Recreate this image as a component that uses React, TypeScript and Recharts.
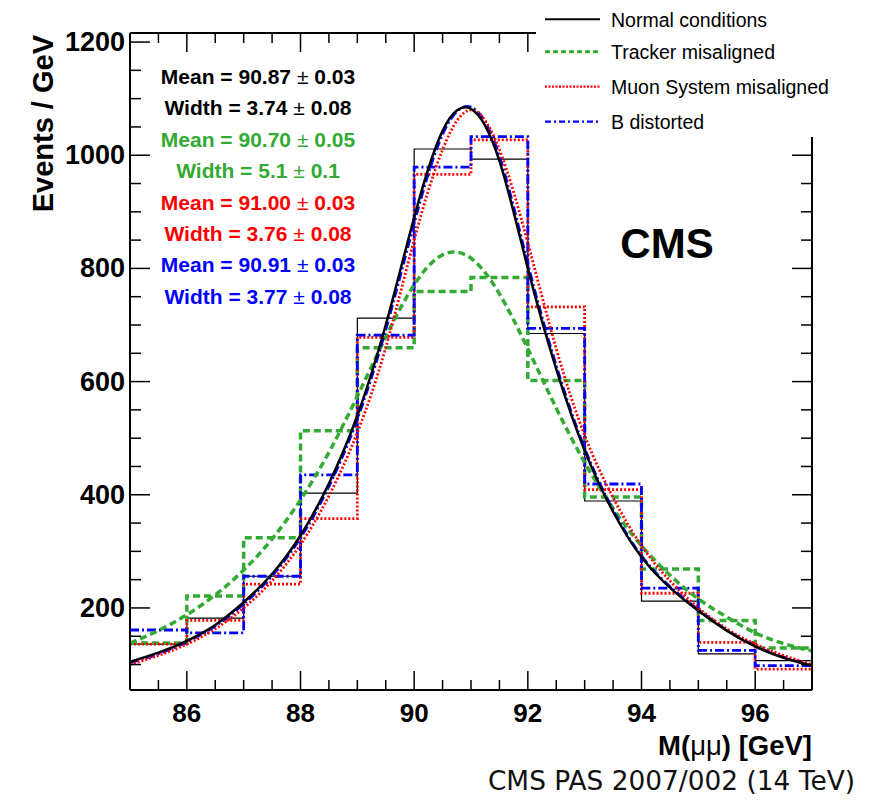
import { Line, LineChart, XAxis, YAxis } from 'recharts'

// histogram bins, 1 GeV wide
const binEdges = [85, 86, 87, 88, 89, 90, 91, 92, 93, 94, 95, 96, 97]
const normalCounts = [136, 182, 256, 403, 712, 1011, 993, 685, 389, 212, 119, 107]
const trackerCounts = [138, 221, 324, 513, 660, 759, 784, 602, 396, 269, 178, 129]
const muonCounts = [136, 178, 242, 358, 678, 966, 1027, 732, 409, 226, 139, 92]
const bFieldCounts = [161, 156, 256, 435, 682, 979, 1033, 694, 419, 235, 125, 98]

// fitted curves, read every 0.5 GeV
const fitMass = [85, 85.5, 86, 86.5, 87, 87.5, 88, 88.5, 89, 89.5, 90, 90.5, 91, 91.5, 92, 92.5, 93, 93.5, 94, 94.5, 95, 95.5, 96, 96.5, 97]
const normalFit = [105, 121, 142, 170, 210, 260, 328, 420, 540, 700, 890, 1043, 1082, 990, 800, 622, 478, 370, 290, 236, 195, 160, 132, 112, 98]
const trackerFit = [138, 160, 188, 223, 267, 322, 391, 475, 574, 679, 771, 824, 818, 755, 658, 553, 457, 376, 310, 258, 216, 184, 156, 137, 124]
const muonFit = [100, 116, 136, 163, 200, 248, 312, 398, 510, 660, 850, 1010, 1080, 1010, 845, 658, 505, 395, 310, 248, 200, 163, 136, 116, 100]
const bFieldFit = [103, 119, 140, 168, 207, 257, 324, 415, 534, 692, 880, 1037, 1085, 998, 808, 628, 482, 373, 292, 238, 197, 161, 133, 113, 98]

const xTicks = [85, 85.5, 86, 86.5, 87, 87.5, 88, 88.5, 89, 89.5, 90, 90.5, 91, 91.5, 92, 92.5, 93, 93.5, 94, 94.5, 95, 95.5, 96, 96.5, 97]
const yTicks = [100, 150, 200, 250, 300, 350, 400, 450, 500, 550, 600, 650, 700, 750, 800, 850, 900, 950, 1000, 1050, 1100, 1150, 1200]

const legendLabels = ['Normal conditions', 'Tracker misaligned', 'Muon System misaligned', 'B distorted']
const statLabels = ['Mean = 90.87', 'Width = 3.74', 'Mean = 90.70', 'Width = 5.1', 'Mean = 91.00', 'Width = 3.76', 'Mean = 90.91', 'Width = 3.77']
const statErrors = ['0.03', '0.08', '0.05', '0.1', '0.03', '0.08', '0.03', '0.08']

const FONT = '"Liberation Sans", Arial, Helvetica, sans-serif'
const GREEN = '#33aa33'

const STYLES = [
  { color: '#000000', histWidth: 1.2, fitWidth: 2.5, dash: undefined as string | undefined },
  { color: GREEN, histWidth: 3.5, fitWidth: 3.5, dash: '7 4' },
  { color: '#ff0000', histWidth: 2.8, fitWidth: 2.8, dash: '2 2' },
  { color: '#0000ff', histWidth: 2.8, fitWidth: 2.8, dash: '9 3 2 3' },
]

const toSteps = (counts: number[]) =>
  binEdges.map((x, i) => ({ x, y: counts[Math.min(i, counts.length - 1)] }))
const toFit = (values: number[]) => fitMass.map((x, i) => ({ x, y: values[i] }))

const histograms = [normalCounts, trackerCounts, muonCounts, bFieldCounts].map(toSteps)
const fits = [normalFit, trackerFit, muonFit, bFieldFit].map(toFit)

// ROOT-style ticks pointing into the frame
function XTick({ x, y, payload, side }: any) {
  const major = payload.value % 2 === 0
  const len = major ? 19 : 10
  const dir = side === 'bottom' ? -1 : 1
  return (
    <g>
      <line x1={x} x2={x} y1={y} y2={y + dir * len} stroke="#000" strokeWidth={1.5} />
      {major && side === 'bottom' && (
        <text x={x} y={y + 32} textAnchor="middle" fontFamily={FONT} fontWeight="bold" fontSize={26} fill="#000">
          {payload.value}
        </text>
      )}
    </g>
  )
}

function YTick({ x, y, payload, side }: any) {
  const major = payload.value % 200 === 0
  const len = major ? 20 : 11
  const dir = side === 'left' ? 1 : -1
  return (
    <g>
      <line x1={x} x2={x + dir * len} y1={y} y2={y} stroke="#000" strokeWidth={1.5} />
      {major && side === 'left' && (
        <text x={x - 5} y={y + 9} textAnchor="end" fontFamily={FONT} fontWeight="bold" fontSize={27} fill="#000">
          {payload.value}
        </text>
      )}
    </g>
  )
}

const axisLine = { stroke: '#000', strokeWidth: 2 }

export default function App() {
  return (
    <div style={{ position: 'absolute', left: 0, top: 0, width: 880, height: 800, background: '#fff' }}>
      <LineChart width={880} height={800} margin={{ top: 32, right: 67, bottom: 109, left: 129 }}>
        <XAxis xAxisId="b" type="number" dataKey="x" domain={[85, 97]} ticks={xTicks} interval={0}
          height={1} tickSize={0} tickMargin={0} axisLine={axisLine} tickLine={false}
          tick={(p: any) => <XTick {...p} side="bottom" />} allowDataOverflow />
        <XAxis xAxisId="t" orientation="top" type="number" dataKey="x" domain={[85, 97]} ticks={xTicks} interval={0}
          height={1} tickSize={0} tickMargin={0} axisLine={axisLine} tickLine={false}
          tick={(p: any) => <XTick {...p} side="top" />} allowDataOverflow />
        <YAxis yAxisId="l" type="number" domain={[55, 1216]} ticks={yTicks} interval={0}
          width={1} tickSize={0} tickMargin={0} axisLine={axisLine} tickLine={false}
          tick={(p: any) => <YTick {...p} side="left" />} allowDataOverflow />
        <YAxis yAxisId="r" orientation="right" type="number" domain={[55, 1216]} ticks={yTicks} interval={0}
          width={1} tickSize={0} tickMargin={0} axisLine={axisLine} tickLine={false}
          tick={(p: any) => <YTick {...p} side="right" />} allowDataOverflow />

        {histograms.map((data, i) => (
          <Line key={`h${i}`} xAxisId="b" yAxisId="l" data={data} dataKey="y" type="stepAfter"
            stroke={STYLES[i].color} strokeWidth={STYLES[i].histWidth} strokeDasharray={STYLES[i].dash}
            dot={false} activeDot={false} isAnimationActive={false} />
        ))}
        {[1, 3, 2, 0].map((i) => (
          <Line key={`f${i}`} xAxisId="b" yAxisId="l" data={fits[i]} dataKey="y" type="natural"
            stroke={STYLES[i].color} strokeWidth={STYLES[i].fitWidth} strokeDasharray={STYLES[i].dash}
            dot={false} activeDot={false} isAnimationActive={false} />
        ))}
      </LineChart>

      <svg width={880} height={800} style={{ position: 'absolute', left: 0, top: 0, pointerEvents: 'none' }}>
        {/* legend box hides the top-right corner of the frame */}
        <rect x={536} y={0} width={344} height={137} fill="#fff" />
        {legendLabels.map((label, i) => {
          const ly = [19.3, 51.7, 86.7, 121.7][i]
          const s = STYLES[i]
          return (
            <g key={label}>
              <line x1={545} x2={600} y1={ly} y2={ly} stroke={s.color}
                strokeWidth={i === 0 ? 2 : i === 1 ? 3 : 2.2}
                strokeDasharray={i === 1 ? '5 3' : i === 2 ? '2 1.5' : i === 3 ? '6 3 2 3' : undefined} />
              <text x={611} y={ly + 7.5} fontFamily={FONT} fontSize={19.5} fill="#000">{label}</text>
            </g>
          )
        })}

        {statLabels.map((label, i) => (
          <text key={i} x={258} y={84 + i * 31.4} textAnchor="middle" fontFamily={FONT} fontWeight="bold"
            fontSize={21} fill={STYLES[Math.floor(i / 2)].color}>
            {label}{' '}<tspan fontWeight="normal">±</tspan>{' '}{statErrors[i]}
          </text>
        ))}

        <text x={667} y={258} textAnchor="middle" fontFamily={FONT} fontWeight="bold" fontSize={42} fill="#000">CMS</text>

        <text transform="translate(53,35) rotate(-90)" textAnchor="end" fontFamily={FONT} fontWeight="bold"
          fontSize={29} fill="#000">Events / GeV</text>
        <text x={812} y={755} textAnchor="end" fontFamily={FONT} fontWeight="bold" fontSize={27.5} fill="#000">
          M(<tspan fontWeight="normal">μμ</tspan>) [GeV]
        </text>
        <text x={855} y={790} textAnchor="end" fontFamily='"DejaVu Sans", sans-serif' fontSize={26.4} fill="#111">
          CMS PAS 2007/002 (14 TeV)
        </text>
      </svg>
    </div>
  )
}
